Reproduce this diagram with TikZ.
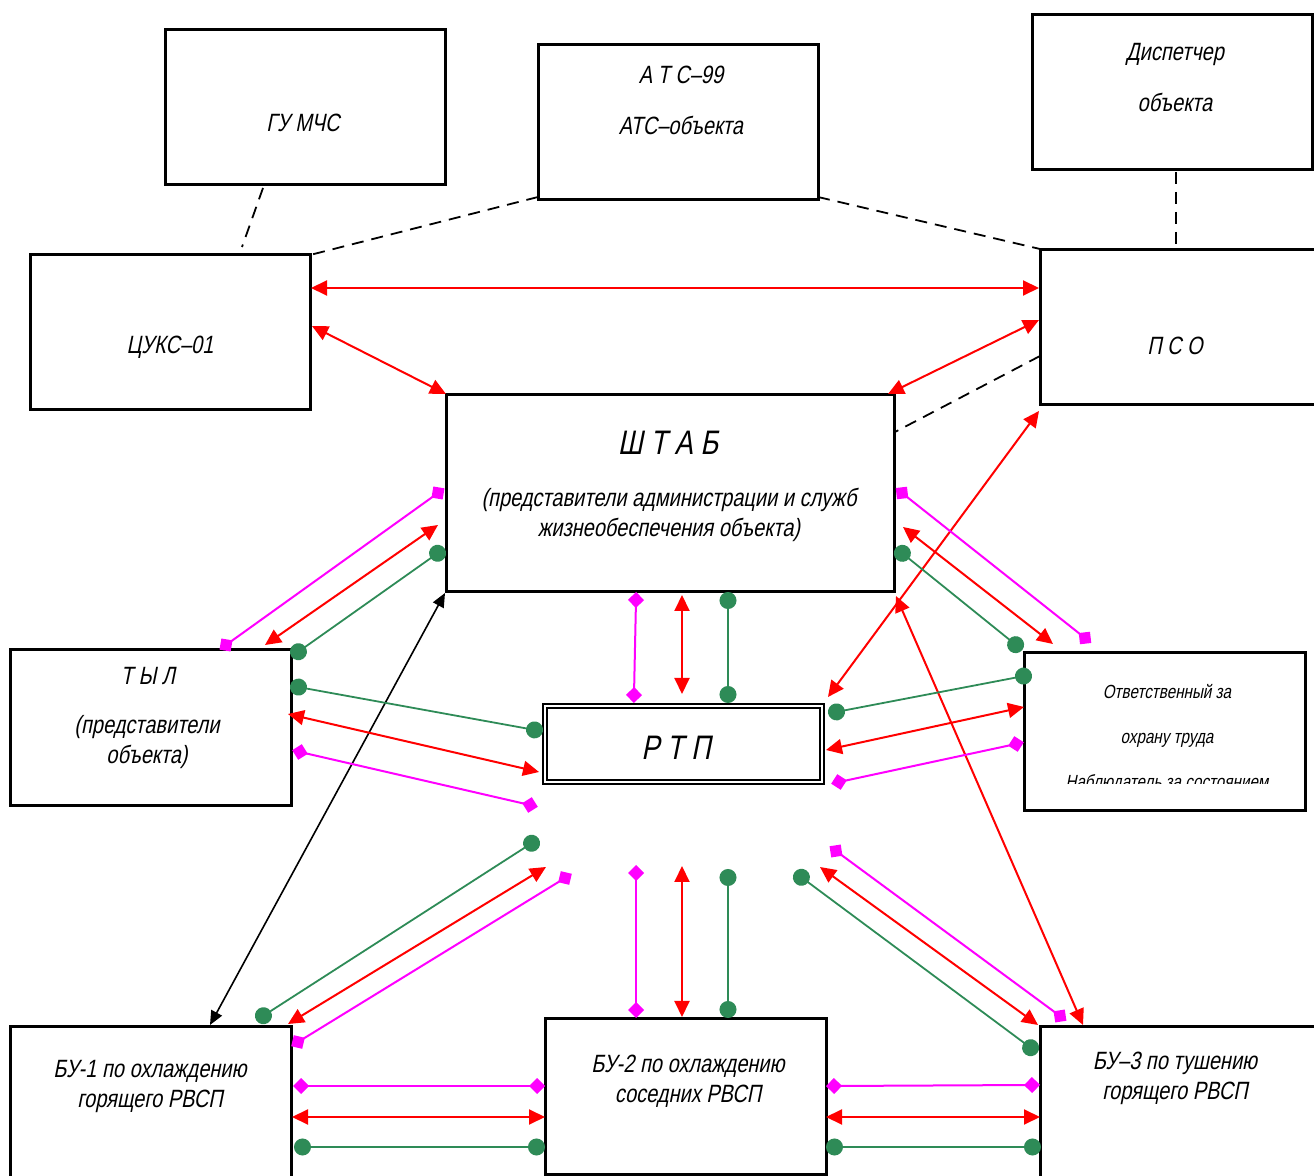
\documentclass[tikz,border=0pt]{standalone}
\usepackage{fontspec}
\setmainfont{Liberation Sans}[FakeStretch=0.8,FakeSlant=0.2]
\usetikzlibrary{arrows.meta,fit}
\definecolor{grncol}{RGB}{46,139,87}
\definecolor{magcol}{RGB}{255,0,255}
\definecolor{redcol}{RGB}{255,0,0}
\tikzset{
  box/.style={draw=black, line width=1.5pt, inner sep=0pt},
  txt/.style={align=center, inner sep=0pt, font=\fontsize{12.5}{15}\selectfont},
  dashln/.style={draw=black, line width=0.9pt, dash pattern=on 6pt off 4pt},
  redarr/.style={draw=redcol, line width=1pt, {Triangle[length=8pt,width=7.5pt]}-{Triangle[length=8pt,width=7.5pt]}},
  blkarr/.style={draw=black, line width=0.8pt, {Triangle[length=7pt,width=6pt]}-{Triangle[length=7pt,width=6pt]}},
  magln/.style={draw=magcol, line width=1pt, {Diamond[length=8pt,width=8pt]}-{Diamond[length=8pt,width=8pt]}, shorten <=-4pt, shorten >=-4pt},
  grnln/.style={draw=grncol, line width=0.9pt, {Circle[length=8.5pt]}-{Circle[length=8.5pt]}, shorten <=-4pt, shorten >=-4pt},
}
\begin{document}
\begin{tikzpicture}[x=0.5pt,y=-0.5pt]
\useasboundingbox (0,0) rectangle (1314,1176);
% boxes
\node[box, fit={(165,30)(445,185)}] (gu) {};
\node[box, fit={(538,45)(818,200)}] (ats) {};
\node[box, fit={(1032,15)(1312,170)}] (disp) {};
\node[box, fit={(30,255)(310,410)}] (tsuks) {};
\node[box, fit={(1040,250)(1322,405)}] (pso) {};
\node[box, fit={(446,395)(894,592)}] (shtab) {};
\node[box, fit={(10,650)(291,806)}] (tyl) {};
\node[draw=black, line width=0.9pt, double=white, double distance=1.3pt, inner sep=0pt, fit={(545,706)(822,782)}] (rtp) {};
\node[box, fit={(1024,653)(1305,811)}] (otv) {};
\node[box, fit={(10,1026)(291,1190)}] (bu1) {};
\node[box, fit={(545,1018)(826,1174)}] (bu2) {};
\node[box, fit={(1040,1026)(1322,1190)}] (bu3) {};
% texts
\node[txt] (gut) at (303,123) {ГУ МЧС};
\node[txt] (atst) at (681,100) {А Т С–99\\[10.5pt]АТС–объекта};
\node[txt] (dispt) at (1175,78) {Диспетчер\\[10.5pt]объекта};
\node[txt] (tsukst) at (170,347) {ЦУКС–01};
\node[txt] (psot) at (1175,346) {П С О};
\node[txt, font=\fontsize{17}{19}\selectfont] (shtabt) at (668,443) {Ш Т А Б};
\node[txt] (shtabt2) at (669,515) {(представители администрации и служб\\жизнеобеспечения объекта)};
\node[txt] (tylt) at (148,676) {Т Ы Л};
\node[txt] (tylt2) at (147,742) {(представители\\объекта)};
\node[txt, font=\fontsize{17}{19}\selectfont] (rtpt) at (676,748) {Р Т П};
\begin{scope}
\clip (1024,653) rectangle (1305,784);
\node[txt, font=\fontsize{9.5}{11}\selectfont] (otvt) at (1167,738) {Ответственный за\\[11.5pt]охрану труда\\[11.5pt]Наблюдатель за состоянием};
\end{scope}
\node[txt] (bu1t) at (150,1086) {БУ-1 по охлаждению\\горящего РВСП};
\node[txt] (bu2t) at (688,1081) {БУ-2 по охлаждению\\соседних РВСП};
\node[txt] (bu3t) at (1175,1078) {БУ–3 по тушению\\горящего РВСП};
% coordinates
\coordinate (d1a) at (263,188); \coordinate (d1b) at (242,247);
\coordinate (d2a) at (538,197); \coordinate (d2b) at (310,255);
\coordinate (d3a) at (818,197); \coordinate (d3b) at (1040,249);
\coordinate (d4a) at (1176,172); \coordinate (d4b) at (1176,250);
\coordinate (d5a) at (1040,356); \coordinate (d5b) at (895,432);
% dashed
\draw[dashln] (d1a) -- (d1b);
\draw[dashln] (d2a) -- (d2b);
\draw[dashln] (d3a) -- (d3b);
\draw[dashln] (d4a) -- (d4b);
\draw[dashln] (d5a) -- (d5b);
% red long
\coordinate (r1a) at (311,288); \coordinate (r1b) at (1039,288);
\coordinate (r2a) at (312,326); \coordinate (r2b) at (446,394);
\coordinate (r3a) at (1039,320); \coordinate (r3b) at (888,394);
\coordinate (r4a) at (1039,411); \coordinate (r4b) at (828,697);
\coordinate (r5a) at (896,596); \coordinate (r5b) at (1083,1025);
\coordinate (k1a) at (445,593); \coordinate (k1b) at (210,1025);
\draw[redarr] (r1a) -- (r1b);
\draw[redarr] (r2a) -- (r2b);
\draw[redarr] (r3a) -- (r3b);
\draw[redarr] (r4a) -- (r4b);
\draw[redarr] (r5a) -- (r5b);
\draw[blkarr] (k1a) -- (k1b);
% SHTAB - TYL
\coordinate (st1a) at (438,493); \coordinate (st1b) at (226,645);
\coordinate (st2a) at (438,525); \coordinate (st2b) at (265,645);
\coordinate (st3a) at (438,553); \coordinate (st3b) at (298,652);
\draw[magln] (st1a) -- (st1b);
\draw[redarr] (st2a) -- (st2b);
\draw[grnln] (st3a) -- (st3b);
% SHTAB - OTV
\coordinate (so1a) at (902,493); \coordinate (so1b) at (1085,638);
\coordinate (so2a) at (903,527); \coordinate (so2b) at (1053,644);
\coordinate (so3a) at (902,553); \coordinate (so3b) at (1016,645);
\draw[magln] (so1a) -- (so1b);
\draw[redarr] (so2a) -- (so2b);
\draw[grnln] (so3a) -- (so3b);
% SHTAB - RTP
\coordinate (sr1a) at (636,600); \coordinate (sr1b) at (634,695);
\coordinate (sr2a) at (682,595); \coordinate (sr2b) at (682,694);
\coordinate (sr3a) at (728,600); \coordinate (sr3b) at (728,695);
\draw[magln] (sr1a) -- (sr1b);
\draw[redarr] (sr2a) -- (sr2b);
\draw[grnln] (sr3a) -- (sr3b);
% TYL - RTP
\coordinate (tr1a) at (298,687); \coordinate (tr1b) at (535,730);
\coordinate (tr2a) at (288,714); \coordinate (tr2b) at (539,772);
\coordinate (tr3a) at (300,752); \coordinate (tr3b) at (530,805);
\draw[grnln] (tr1a) -- (tr1b);
\draw[redarr] (tr2a) -- (tr2b);
\draw[magln] (tr3a) -- (tr3b);
% RTP - OTV
\coordinate (ro1a) at (836,712); \coordinate (ro1b) at (1024,676);
\coordinate (ro2a) at (826,750); \coordinate (ro2b) at (1024,707);
\coordinate (ro3a) at (839,782); \coordinate (ro3b) at (1016,744);
\draw[grnln] (ro1a) -- (ro1b);
\draw[redarr] (ro2a) -- (ro2b);
\draw[magln] (ro3a) -- (ro3b);
% lower left
\coordinate (ll1a) at (532,843); \coordinate (ll1b) at (263,1016);
\coordinate (ll2a) at (546,867); \coordinate (ll2b) at (288,1024);
\coordinate (ll3a) at (565,878); \coordinate (ll3b) at (298,1042);
\draw[grnln] (ll1a) -- (ll1b);
\draw[redarr] (ll2a) -- (ll2b);
\draw[magln] (ll3a) -- (ll3b);
% lower vertical
\coordinate (lv1a) at (636,873); \coordinate (lv1b) at (636,1010);
\coordinate (lv2a) at (682,866); \coordinate (lv2b) at (682,1017);
\coordinate (lv3a) at (728,877); \coordinate (lv3b) at (728,1010);
\draw[magln] (lv1a) -- (lv1b);
\draw[redarr] (lv2a) -- (lv2b);
\draw[grnln] (lv3a) -- (lv3b);
% lower right
\coordinate (lr1a) at (836,851); \coordinate (lr1b) at (1060,1016);
\coordinate (lr2a) at (820,867); \coordinate (lr2b) at (1038,1025);
\coordinate (lr3a) at (801,877); \coordinate (lr3b) at (1031,1048);
\draw[magln] (lr1a) -- (lr1b);
\draw[redarr] (lr2a) -- (lr2b);
\draw[grnln] (lr3a) -- (lr3b);
% bottom left
\coordinate (b1a) at (301,1086); \coordinate (b1b) at (537,1086);
\coordinate (b2a) at (292,1117); \coordinate (b2b) at (545,1117);
\coordinate (b3a) at (302,1147); \coordinate (b3b) at (537,1147);
\draw[magln] (b1a) -- (b1b);
\draw[redarr] (b2a) -- (b2b);
\draw[grnln] (b3a) -- (b3b);
% bottom right
\coordinate (c1a) at (834,1086); \coordinate (c1b) at (1032,1085);
\coordinate (c2a) at (826,1117); \coordinate (c2b) at (1040,1117);
\coordinate (c3a) at (834,1147); \coordinate (c3b) at (1033,1147);
\draw[magln] (c1a) -- (c1b);
\draw[redarr] (c2a) -- (c2b);
\draw[grnln] (c3a) -- (c3b);
\end{tikzpicture}
\end{document}
